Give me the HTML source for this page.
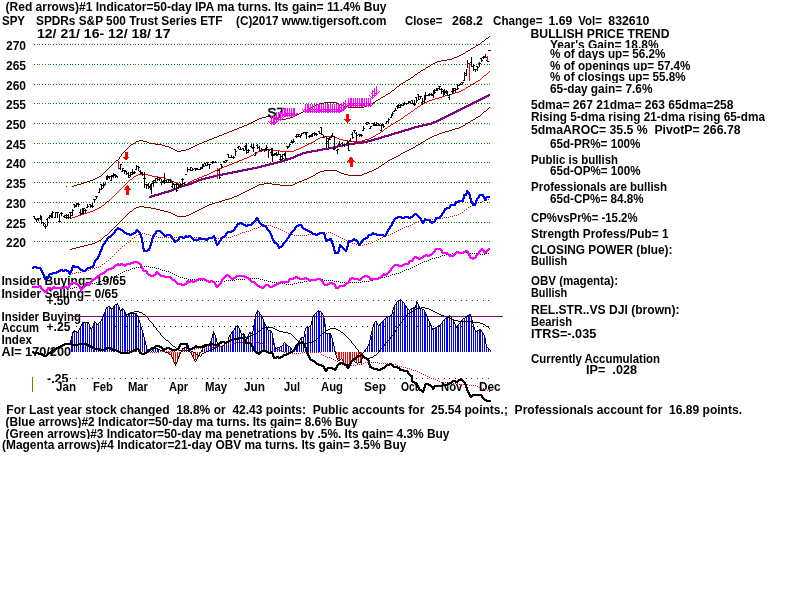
<!DOCTYPE html><html><head><meta charset="utf-8"><title>SPY chart</title><style>html,body{margin:0;padding:0;background:#fff;overflow:hidden}svg{display:block}</style></head><body><svg width="800" height="600" viewBox="0 0 800 600" shape-rendering="crispEdges">
<rect width="800" height="600" fill="#fff"/>
<g font-family="'Liberation Sans', sans-serif" font-weight="bold" font-size="13" fill="#000" text-rendering="optimizeLegibility" style="filter:grayscale(1)">
<rect x="4.5" y="1.0" width="383.0" height="12" fill="#fff"/>
<text x="5.5" y="11.0" textLength="381.0" lengthAdjust="spacingAndGlyphs" xml:space="preserve">(Red arrows)#1 Indicator=50-day IPA ma turns. Its gain= 11.4% Buy</text>
<rect x="1.0" y="15.0" width="25.0" height="12" fill="#fff"/>
<text x="2.0" y="25.0" textLength="23.0" lengthAdjust="spacingAndGlyphs" xml:space="preserve">SPY</text>
<rect x="35.0" y="15.0" width="188.5" height="12" fill="#fff"/>
<text x="36.0" y="25.0" textLength="186.5" lengthAdjust="spacingAndGlyphs" xml:space="preserve">SPDRs S&amp;P 500 Trust Series ETF</text>
<rect x="235.0" y="15.0" width="152.5" height="12" fill="#fff"/>
<text x="236.0" y="25.0" textLength="150.5" lengthAdjust="spacingAndGlyphs" xml:space="preserve">(C)2017 www.tigersoft.com</text>
<rect x="404.0" y="15.0" width="39.5" height="12" fill="#fff"/>
<text x="405.0" y="25.0" textLength="37.5" lengthAdjust="spacingAndGlyphs" xml:space="preserve">Close=</text>
<rect x="451.0" y="15.0" width="33.0" height="12" fill="#fff"/>
<text x="452.0" y="25.0" textLength="31.0" lengthAdjust="spacingAndGlyphs" xml:space="preserve">268.2</text>
<rect x="492.0" y="15.0" width="51.5" height="12" fill="#fff"/>
<text x="493.0" y="25.0" textLength="49.5" lengthAdjust="spacingAndGlyphs" xml:space="preserve">Change=</text>
<rect x="547.6" y="15.0" width="25.6" height="12" fill="#fff"/>
<text x="548.6" y="25.0" textLength="23.6" lengthAdjust="spacingAndGlyphs" xml:space="preserve">1.69</text>
<rect x="577.3" y="15.0" width="25.7" height="12" fill="#fff"/>
<text x="578.3" y="25.0" textLength="23.7" lengthAdjust="spacingAndGlyphs" xml:space="preserve">Vol=</text>
<rect x="607.3" y="15.0" width="43.1" height="12" fill="#fff"/>
<text x="608.3" y="25.0" textLength="41.1" lengthAdjust="spacingAndGlyphs" xml:space="preserve">832610</text>
<rect x="36.0" y="28.0" width="135.5" height="12" fill="#fff"/>
<text x="37.0" y="38.0" textLength="133.5" lengthAdjust="spacingAndGlyphs" xml:space="preserve">12/ 21/ 16- 12/ 18/ 17</text>
<rect x="529.5" y="28.0" width="141.0" height="12" fill="#fff"/>
<text x="530.5" y="38.0" textLength="139.0" lengthAdjust="spacingAndGlyphs" xml:space="preserve">BULLISH PRICE TREND</text>
<rect x="549.0" y="39.0" width="110.5" height="12" fill="#fff"/>
<text x="550.0" y="49.0" textLength="108.5" lengthAdjust="spacingAndGlyphs" xml:space="preserve">Year's Gain= 18.8%</text>
<rect x="549.0" y="48.0" width="117.5" height="12" fill="#fff"/>
<text x="550.0" y="58.0" textLength="115.5" lengthAdjust="spacingAndGlyphs" xml:space="preserve">% of days up= 56.2%</text>
<rect x="549.0" y="60.0" width="142.5" height="12" fill="#fff"/>
<text x="550.0" y="70.0" textLength="140.5" lengthAdjust="spacingAndGlyphs" xml:space="preserve">% of openings up= 57.4%</text>
<rect x="549.0" y="71.0" width="137.5" height="12" fill="#fff"/>
<text x="550.0" y="81.0" textLength="135.5" lengthAdjust="spacingAndGlyphs" xml:space="preserve">% of closings up= 55.8%</text>
<rect x="549.0" y="83.0" width="104.5" height="12" fill="#fff"/>
<text x="550.0" y="93.0" textLength="102.5" lengthAdjust="spacingAndGlyphs" xml:space="preserve">65-day gain= 7.6%</text>
<rect x="530.0" y="99.0" width="204.5" height="12" fill="#fff"/>
<text x="531.0" y="109.0" textLength="202.5" lengthAdjust="spacingAndGlyphs" xml:space="preserve">5dma= 267 21dma= 263 65dma=258</text>
<rect x="530.0" y="111.0" width="236.0" height="12" fill="#fff"/>
<text x="531.0" y="121.0" textLength="234.0" lengthAdjust="spacingAndGlyphs" xml:space="preserve">Rising 5-dma rising 21-dma rising 65-dma</text>
<rect x="530.0" y="124.0" width="211.5" height="12" fill="#fff"/>
<text x="531.0" y="134.0" textLength="209.5" lengthAdjust="spacingAndGlyphs" xml:space="preserve">5dmaAROC= 35.5 %  PivotP= 266.78</text>
<rect x="549.0" y="138.0" width="92.5" height="12" fill="#fff"/>
<text x="550.0" y="148.0" textLength="90.5" lengthAdjust="spacingAndGlyphs" xml:space="preserve">65d-PR%= 100%</text>
<rect x="530.0" y="154.0" width="89.0" height="12" fill="#fff"/>
<text x="531.0" y="164.0" textLength="87.0" lengthAdjust="spacingAndGlyphs" xml:space="preserve">Public is bullish</text>
<rect x="549.0" y="165.0" width="92.5" height="12" fill="#fff"/>
<text x="550.0" y="175.0" textLength="90.5" lengthAdjust="spacingAndGlyphs" xml:space="preserve">65d-OP%= 100%</text>
<rect x="530.0" y="181.0" width="138.0" height="12" fill="#fff"/>
<text x="531.0" y="191.0" textLength="136.0" lengthAdjust="spacingAndGlyphs" xml:space="preserve">Professionals are bullish</text>
<rect x="549.0" y="193.0" width="95.5" height="12" fill="#fff"/>
<text x="550.0" y="203.0" textLength="93.5" lengthAdjust="spacingAndGlyphs" xml:space="preserve">65d-CP%= 84.8%</text>
<rect x="530.0" y="212.0" width="108.5" height="12" fill="#fff"/>
<text x="531.0" y="222.0" textLength="106.5" lengthAdjust="spacingAndGlyphs" xml:space="preserve">CP%vsPr%= -15.2%</text>
<rect x="530.0" y="228.0" width="139.5" height="12" fill="#fff"/>
<text x="531.0" y="238.0" textLength="137.5" lengthAdjust="spacingAndGlyphs" xml:space="preserve">Strength Profess/Pub= 1</text>
<rect x="530.0" y="244.0" width="143.5" height="12" fill="#fff"/>
<text x="531.0" y="254.0" textLength="141.5" lengthAdjust="spacingAndGlyphs" xml:space="preserve">CLOSING POWER (blue):</text>
<rect x="530.0" y="255.0" width="38.0" height="12" fill="#fff"/>
<text x="531.0" y="265.0" textLength="36.0" lengthAdjust="spacingAndGlyphs" xml:space="preserve">Bullish</text>
<rect x="530.0" y="275.0" width="89.0" height="12" fill="#fff"/>
<text x="531.0" y="285.0" textLength="87.0" lengthAdjust="spacingAndGlyphs" xml:space="preserve">OBV (magenta):</text>
<rect x="530.0" y="287.0" width="38.0" height="12" fill="#fff"/>
<text x="531.0" y="297.0" textLength="36.0" lengthAdjust="spacingAndGlyphs" xml:space="preserve">Bullish</text>
<rect x="530.0" y="304.0" width="150.5" height="12" fill="#fff"/>
<text x="531.0" y="314.0" textLength="148.5" lengthAdjust="spacingAndGlyphs" xml:space="preserve">REL.STR..VS DJI (brown):</text>
<rect x="530.0" y="316.0" width="43.0" height="12" fill="#fff"/>
<text x="531.0" y="326.0" textLength="41.0" lengthAdjust="spacingAndGlyphs" xml:space="preserve">Bearish</text>
<rect x="530.0" y="328.0" width="67.3" height="12" fill="#fff"/>
<text x="531.0" y="338.0" textLength="65.3" lengthAdjust="spacingAndGlyphs" xml:space="preserve">ITRS=-.035</text>
<rect x="530.0" y="353.0" width="131.0" height="12" fill="#fff"/>
<text x="531.0" y="363.0" textLength="129.0" lengthAdjust="spacingAndGlyphs" xml:space="preserve">Currently Accumulation</text>
<rect x="585.0" y="363.5" width="53.0" height="12" fill="#fff"/>
<text x="586.0" y="373.5" textLength="51.0" lengthAdjust="spacingAndGlyphs" xml:space="preserve">IP=  .028</text>
<rect x="5.3" y="404.0" width="737.7" height="12" fill="#fff"/>
<text x="6.3" y="414.0" textLength="735.7" lengthAdjust="spacingAndGlyphs" xml:space="preserve">For Last year stock changed  18.8% or  42.43 points:  Public accounts for  25.54 points.;  Professionals account for  16.89 points.</text>
<rect x="4.5" y="416.0" width="354.0" height="12" fill="#fff"/>
<text x="5.5" y="426.0" textLength="352.0" lengthAdjust="spacingAndGlyphs" xml:space="preserve">(Blue arrows)#2 Indicator=50-day ma turns. Its gain= 8.6% Buy</text>
<rect x="4.5" y="428.0" width="446.0" height="12" fill="#fff"/>
<text x="5.5" y="438.0" textLength="444.0" lengthAdjust="spacingAndGlyphs" xml:space="preserve">(Green arrows)#3 Indicator=50-day ma penetrations by .5%. Its gain= 4.3% Buy</text>
<rect x="1.0" y="439.0" width="406.3" height="12" fill="#fff"/>
<text x="2.0" y="449.0" textLength="404.3" lengthAdjust="spacingAndGlyphs" xml:space="preserve">(Magenta arrows)#4 Indicator=21-day OBV ma turns. Its gain= 3.5% Buy</text>
<rect x="5.0" y="40.0" width="22.0" height="12" fill="#fff"/>
<text x="6.0" y="50.0" textLength="20.0" lengthAdjust="spacingAndGlyphs" xml:space="preserve">270</text>
<rect x="5.0" y="60.0" width="22.0" height="12" fill="#fff"/>
<text x="6.0" y="70.0" textLength="20.0" lengthAdjust="spacingAndGlyphs" xml:space="preserve">265</text>
<rect x="5.0" y="80.0" width="22.0" height="12" fill="#fff"/>
<text x="6.0" y="90.0" textLength="20.0" lengthAdjust="spacingAndGlyphs" xml:space="preserve">260</text>
<rect x="5.0" y="99.0" width="22.0" height="12" fill="#fff"/>
<text x="6.0" y="109.0" textLength="20.0" lengthAdjust="spacingAndGlyphs" xml:space="preserve">255</text>
<rect x="5.0" y="119.0" width="22.0" height="12" fill="#fff"/>
<text x="6.0" y="129.0" textLength="20.0" lengthAdjust="spacingAndGlyphs" xml:space="preserve">250</text>
<rect x="5.0" y="139.0" width="22.0" height="12" fill="#fff"/>
<text x="6.0" y="149.0" textLength="20.0" lengthAdjust="spacingAndGlyphs" xml:space="preserve">245</text>
<rect x="5.0" y="158.0" width="22.0" height="12" fill="#fff"/>
<text x="6.0" y="168.0" textLength="20.0" lengthAdjust="spacingAndGlyphs" xml:space="preserve">240</text>
<rect x="5.0" y="178.0" width="22.0" height="12" fill="#fff"/>
<text x="6.0" y="188.0" textLength="20.0" lengthAdjust="spacingAndGlyphs" xml:space="preserve">235</text>
<rect x="5.0" y="198.0" width="22.0" height="12" fill="#fff"/>
<text x="6.0" y="208.0" textLength="20.0" lengthAdjust="spacingAndGlyphs" xml:space="preserve">230</text>
<rect x="5.0" y="218.0" width="22.0" height="12" fill="#fff"/>
<text x="6.0" y="228.0" textLength="20.0" lengthAdjust="spacingAndGlyphs" xml:space="preserve">225</text>
<rect x="5.0" y="237.0" width="22.0" height="12" fill="#fff"/>
<text x="6.0" y="247.0" textLength="20.0" lengthAdjust="spacingAndGlyphs" xml:space="preserve">220</text>
<text x="1.5" y="285.0" textLength="124.5" lengthAdjust="spacingAndGlyphs" xml:space="preserve">Insider Buying= 19/65</text>
<text x="1.5" y="298.0" textLength="116.5" lengthAdjust="spacingAndGlyphs" xml:space="preserve">Insider Selling= 0/65</text>
<text x="46.5" y="304.5" textLength="23.5" lengthAdjust="spacingAndGlyphs" xml:space="preserve">+.50</text>
<text x="1.5" y="320.5" textLength="79.5" lengthAdjust="spacingAndGlyphs" xml:space="preserve">Insider Buying</text>
<text x="1.5" y="332.0" textLength="37.5" lengthAdjust="spacingAndGlyphs" xml:space="preserve">Accum</text>
<text x="46.5" y="330.5" textLength="24.0" lengthAdjust="spacingAndGlyphs" xml:space="preserve">+.25</text>
<text x="1.5" y="344.0" textLength="30.5" lengthAdjust="spacingAndGlyphs" xml:space="preserve">Index</text>
<text x="1.5" y="356.0" textLength="69.5" lengthAdjust="spacingAndGlyphs" xml:space="preserve">AI= 170/200</text>
<text x="47.0" y="383.0" textLength="21.5" lengthAdjust="spacingAndGlyphs" xml:space="preserve">-.25</text>
<rect x="55.0" y="382.4" width="22.0" height="10.6" fill="#fff"/>
<text x="56.0" y="391.0" textLength="20.0" lengthAdjust="spacingAndGlyphs" xml:space="preserve">Jan</text>
<rect x="92.0" y="382.4" width="22.0" height="10.6" fill="#fff"/>
<text x="93.0" y="391.0" textLength="20.0" lengthAdjust="spacingAndGlyphs" xml:space="preserve">Feb</text>
<rect x="127.0" y="382.4" width="22.0" height="10.6" fill="#fff"/>
<text x="128.0" y="391.0" textLength="20.0" lengthAdjust="spacingAndGlyphs" xml:space="preserve">Mar</text>
<rect x="168.0" y="382.4" width="21.0" height="10.6" fill="#fff"/>
<text x="169.0" y="391.0" textLength="19.0" lengthAdjust="spacingAndGlyphs" xml:space="preserve">Apr</text>
<rect x="204.0" y="382.4" width="24.0" height="10.6" fill="#fff"/>
<text x="205.0" y="391.0" textLength="22.0" lengthAdjust="spacingAndGlyphs" xml:space="preserve">May</text>
<rect x="243.0" y="382.4" width="23.0" height="10.6" fill="#fff"/>
<text x="244.0" y="391.0" textLength="21.0" lengthAdjust="spacingAndGlyphs" xml:space="preserve">Jun</text>
<rect x="283.0" y="382.4" width="18.0" height="10.6" fill="#fff"/>
<text x="284.0" y="391.0" textLength="16.0" lengthAdjust="spacingAndGlyphs" xml:space="preserve">Jul</text>
<rect x="320.0" y="382.4" width="24.0" height="10.6" fill="#fff"/>
<text x="321.0" y="391.0" textLength="22.0" lengthAdjust="spacingAndGlyphs" xml:space="preserve">Aug</text>
<rect x="363.0" y="382.4" width="24.0" height="10.6" fill="#fff"/>
<text x="364.0" y="391.0" textLength="22.0" lengthAdjust="spacingAndGlyphs" xml:space="preserve">Sep</text>
<rect x="400.0" y="382.4" width="19.2" height="10.6" fill="#fff"/>
<text x="401.0" y="391.0" textLength="17.2" lengthAdjust="spacingAndGlyphs" xml:space="preserve">Oct</text>
<rect x="440.0" y="382.4" width="23.3" height="10.6" fill="#fff"/>
<text x="441.0" y="391.0" textLength="21.3" lengthAdjust="spacingAndGlyphs" xml:space="preserve">Nov</text>
<rect x="478.0" y="382.4" width="23.7" height="10.6" fill="#fff"/>
<text x="479.0" y="391.0" textLength="21.7" lengthAdjust="spacingAndGlyphs" xml:space="preserve">Dec</text>
</g>
<defs><path id="gl" d="M34 0h1M37 0h1M39 0h1M42 0h1M45 0h1M48 0h1M50 0h1M53 0h1M56 0h1M59 0h1M61 0h1M64 0h1M67 0h1M70 0h1M72 0h1M75 0h1M78 0h1M81 0h1M83 0h1M86 0h1M89 0h1M92 0h1M94 0h1M97 0h1M100 0h1M103 0h1M105 0h1M108 0h1M111 0h1M114 0h1M116 0h1M119 0h1M122 0h1M124 0h1M127 0h1M130 0h1M133 0h1M135 0h1M138 0h1M141 0h1M144 0h1M146 0h1M149 0h1M152 0h1M155 0h1M157 0h1M160 0h1M163 0h1M166 0h1M168 0h1M171 0h1M174 0h1M177 0h1M179 0h1M182 0h1M185 0h1M188 0h1M190 0h1M193 0h1M196 0h1M199 0h1M201 0h1M204 0h1M207 0h1M210 0h1M212 0h1M215 0h1M218 0h1M220 0h1M223 0h1M226 0h1M229 0h1M231 0h1M234 0h1M237 0h1M240 0h1M242 0h1M245 0h1M248 0h1M251 0h1M253 0h1M256 0h1M259 0h1M262 0h1M264 0h1M267 0h1M270 0h1M273 0h1M275 0h1M278 0h1M281 0h1M284 0h1M286 0h1M289 0h1M292 0h1M295 0h1M297 0h1M300 0h1M303 0h1M306 0h1M308 0h1M311 0h1M314 0h1M316 0h1M319 0h1M322 0h1M325 0h1M327 0h1M330 0h1M333 0h1M336 0h1M338 0h1M341 0h1M344 0h1M347 0h1M349 0h1M352 0h1M355 0h1M358 0h1M360 0h1M363 0h1M366 0h1M369 0h1M371 0h1M374 0h1M377 0h1M380 0h1M382 0h1M385 0h1M388 0h1M391 0h1M393 0h1M396 0h1M399 0h1M402 0h1M404 0h1M407 0h1M410 0h1M413 0h1M415 0h1M418 0h1M421 0h1M423 0h1M426 0h1M429 0h1M432 0h1M434 0h1M437 0h1M440 0h1M443 0h1M445 0h1M448 0h1M451 0h1M454 0h1M456 0h1M459 0h1M462 0h1M465 0h1M467 0h1M470 0h1M473 0h1M476 0h1M478 0h1M481 0h1M484 0h1M487 0h1M489 0h1" stroke="#008000" stroke-width="1"/></defs>
<use href="#gl" y="44.5"/>
<use href="#gl" y="64.5"/>
<use href="#gl" y="84.5"/>
<use href="#gl" y="103.5"/>
<use href="#gl" y="123.5"/>
<use href="#gl" y="143.5"/>
<use href="#gl" y="162.5"/>
<use href="#gl" y="182.5"/>
<use href="#gl" y="202.5"/>
<use href="#gl" y="222.5"/>
<use href="#gl" y="241.5"/>
<path d="M76 0h1M82 0h1M87 0h1M93 0h1M98 0h1M104 0h1M109 0h1M115 0h1M120 0h1M126 0h1M131 0h1M137 0h1M142 0h1M148 0h1M153 0h1M159 0h1M164 0h1M170 0h1M175 0h1M181 0h1M186 0h1M191 0h1M197 0h1M202 0h1M208 0h1M213 0h1M219 0h1M224 0h1M230 0h1M235 0h1M241 0h1M246 0h1M252 0h1M257 0h1M263 0h1M268 0h1M274 0h1M279 0h1M285 0h1M290 0h1M296 0h1M301 0h1M307 0h1M312 0h1M318 0h1M323 0h1M329 0h1M334 0h1M340 0h1M345 0h1M351 0h1M356 0h1M362 0h1M367 0h1M373 0h1M378 0h1M384 0h1M389 0h1M395 0h1M400 0h1M406 0h1M411 0h1M417 0h1M422 0h1M428 0h1M433 0h1M439 0h1M444 0h1M450 0h1M455 0h1M461 0h1M466 0h1M472 0h1M477 0h1M483 0h1M488 0h1" stroke="#800080" transform="translate(0,300.5)"/>
<path d="M76 0h1M82 0h1M87 0h1M93 0h1M98 0h1M104 0h1M109 0h1M115 0h1M120 0h1M126 0h1M131 0h1M137 0h1M142 0h1M148 0h1M153 0h1M159 0h1M164 0h1M170 0h1M175 0h1M181 0h1M186 0h1M191 0h1M197 0h1M202 0h1M208 0h1M213 0h1M219 0h1M224 0h1M230 0h1M235 0h1M241 0h1M246 0h1M252 0h1M257 0h1M263 0h1M268 0h1M274 0h1M279 0h1M285 0h1M290 0h1M296 0h1M301 0h1M307 0h1M312 0h1M318 0h1M323 0h1M329 0h1M334 0h1M340 0h1M345 0h1M351 0h1M356 0h1M362 0h1M367 0h1M373 0h1M378 0h1M384 0h1M389 0h1M395 0h1M400 0h1M406 0h1M411 0h1M417 0h1M422 0h1M428 0h1M433 0h1M439 0h1M444 0h1M450 0h1M455 0h1M461 0h1M466 0h1M472 0h1M477 0h1M483 0h1M488 0h1" stroke="#000" transform="translate(0,326.5)"/>
<path d="M70 0h1M76 0h1M81 0h1M87 0h1M92 0h1M98 0h1M103 0h1M109 0h1M114 0h1M120 0h1M125 0h1M131 0h1M136 0h1M142 0h1M147 0h1M153 0h1M158 0h1M164 0h1M169 0h1M175 0h1M180 0h1M185 0h1M191 0h1M196 0h1M202 0h1M207 0h1M213 0h1M218 0h1M224 0h1M229 0h1M235 0h1M240 0h1M246 0h1M251 0h1M257 0h1M262 0h1M268 0h1M273 0h1M279 0h1M284 0h1M290 0h1M295 0h1M301 0h1M306 0h1M312 0h1M317 0h1M323 0h1M328 0h1M334 0h1M339 0h1M345 0h1M350 0h1M356 0h1M361 0h1M367 0h1M372 0h1M378 0h1M383 0h1M389 0h1M394 0h1M400 0h1M405 0h1M411 0h1M416 0h1M422 0h1M427 0h1M433 0h1M438 0h1M444 0h1M449 0h1M455 0h1M460 0h1M466 0h1M471 0h1M477 0h1M482 0h1M488 0h1" stroke="#800080" transform="translate(0,378.5)"/>
<line x1="72" y1="316.5" x2="503" y2="316.5" stroke="#800080"/>
<line x1="32.5" y1="377" x2="32.5" y2="392" stroke="#808000"/>
<path d="M71 352V339M72 352V332M74 352V330M76 352V331M78 352V330M80 352V327M82 352V323M83 352V322M85 352V322M87 352V322M89 352V324M91 352V329M93 352V325M94 352V321M96 352V323M98 352V324M100 352V322M102 352V318M104 352V314M105 352V309M107 352V307M109 352V307M111 352V308M113 352V307M114 352V305M116 352V304M118 352V305M120 352V311M122 352V309M124 352V310M125 352V314M127 352V316M129 352V314M131 352V313M133 352V313M135 352V313M136 352V315M138 352V318M140 352V324M142 352V331M144 352V338M146 352V345M147 352V350M149 352V351M151 352V351M153 352V349M155 352V349M157 352V348M158 352V349M160 352V350M162 352V350M164 352V351M182 352V349M184 352V348M186 352V346M188 352V345M189 352V351M202 352V349M204 352V348M206 352V346M208 352V345M210 352V343M211 352V338M213 352V332M215 352V336M217 352V343M219 352V345M221 352V346M222 352V345M224 352V345M226 352V343M228 352V341M230 352V335M232 352V332M233 352V330M235 352V327M237 352V326M239 352V328M241 352V333M243 352V334M244 352V335M246 352V337M248 352V336M250 352V333M252 352V334M254 352V325M255 352V314M257 352V311M259 352V313M261 352V316M263 352V319M264 352V323M266 352V327M268 352V331M270 352V330M272 352V333M274 352V343M275 352V348M277 352V348M279 352V347M281 352V346M283 352V344M285 352V343M286 352V345M288 352V346M290 352V347M292 352V350M294 352V350M296 352V349M297 352V346M299 352V341M301 352V338M303 352V338M305 352V334M307 352V328M308 352V327M310 352V325M312 352V319M314 352V314M316 352V313M318 352V311M319 352V311M321 352V313M323 352V315M325 352V324M327 352V333M329 352V333M330 352V334M332 352V339M334 352V347M365 352V350M367 352V347M369 352V344M371 352V336M372 352V328M374 352V322M376 352V322M378 352V325M380 352V324M382 352V322M383 352V320M385 352V318M387 352V317M389 352V316M391 352V315M393 352V312M394 352V306M396 352V303M398 352V301M400 352V300M402 352V301M404 352V303M405 352V306M407 352V308M409 352V310M411 352V309M413 352V308M414 352V307M416 352V302M418 352V306M420 352V308M422 352V309M424 352V310M425 352V313M427 352V317M429 352V321M431 352V325M433 352V329M435 352V328M436 352V327M438 352V325M440 352V324M442 352V321M444 352V319M446 352V318M447 352V316M449 352V315M451 352V317M453 352V320M455 352V324M457 352V327M458 352V324M460 352V321M462 352V319M464 352V318M466 352V316M468 352V315M469 352V314M471 352V318M473 352V324M475 352V331M477 352V330M479 352V330M480 352V330M482 352V332M484 352V335M486 352V345M488 352V348M490 352V350" stroke="#0000ff" transform="translate(0.5,0)"/>
<path d="M168 352V353M169 352V354M171 352V355M173 352V359M175 352V364M177 352V361M179 352V357M180 352V353M191 352V354M193 352V357M195 352V360M197 352V358M199 352V355M336 352V354M338 352V359M339 352V360M341 352V359M343 352V361M345 352V364M347 352V365M349 352V364M350 352V362M352 352V361M354 352V361M356 352V362M358 352V363M360 352V362M361 352V364" stroke="#ff0000" transform="translate(0.5,0)"/>
<path d="M400 299h1M398 300h2M401 300h1M397 301h1M402 301h1M416 301h1M396 302h1M403 302h1M416 302h2M117 303h1M396 303h1M404 303h1M416 303h2M115 304h3M395 304h1M404 304h1M416 304h1M418 304h1M114 305h1M118 305h1M394 305h1M405 305h1M415 305h1M418 305h1M108 306h2M113 306h1M118 306h1M394 306h1M406 306h1M415 306h1M419 306h1M106 307h2M110 307h1M113 307h1M119 307h1M393 307h1M406 307h1M413 307h3M419 307h1M106 308h1M110 308h1M112 308h1M119 308h1M122 308h1M393 308h1M407 308h1M411 308h2M420 308h2M105 309h1M111 309h1M119 309h1M121 309h1M123 309h1M393 309h1M408 309h1M410 309h1M422 309h2M105 310h1M120 310h2M124 310h1M257 310h1M318 310h1M392 310h1M409 310h1M424 310h1M105 311h1M120 311h1M124 311h1M257 311h2M317 311h1M319 311h2M392 311h1M424 311h1M104 312h1M125 312h1M256 312h1M259 312h1M316 312h1M321 312h1M392 312h1M425 312h1M104 313h1M125 313h1M128 313h9M256 313h1M259 313h1M315 313h1M322 313h1M392 313h1M425 313h1M103 314h1M126 314h1M128 314h1M136 314h1M255 314h1M260 314h1M314 314h1M322 314h1M391 314h1M426 314h1M469 314h2M103 315h1M126 315h1M128 315h1M137 315h1M255 315h1M261 315h1M313 315h1M323 315h1M390 315h2M426 315h1M449 315h1M467 315h2M470 315h1M103 316h1M127 316h1M137 316h1M255 316h1M261 316h1M313 316h1M323 316h1M388 316h2M427 316h1M448 316h1M450 316h1M466 316h1M471 316h1M102 317h1M127 317h1M138 317h1M255 317h1M262 317h1M312 317h1M323 317h1M386 317h2M427 317h1M446 317h2M451 317h1M465 317h1M471 317h1M102 318h1M138 318h1M255 318h1M262 318h1M312 318h1M324 318h1M385 318h1M427 318h1M445 318h1M451 318h1M463 318h2M471 318h1M101 319h1M138 319h1M254 319h1M263 319h1M312 319h1M324 319h1M384 319h1M428 319h1M444 319h1M452 319h1M462 319h1M471 319h1M101 320h1M139 320h1M254 320h1M263 320h1M312 320h1M324 320h1M383 320h1M428 320h1M443 320h1M453 320h1M461 320h1M472 320h1M94 321h1M100 321h1M139 321h1M254 321h1M263 321h1M311 321h1M324 321h1M375 321h2M382 321h1M429 321h1M442 321h1M453 321h1M460 321h1M472 321h1M82 322h7M94 322h2M99 322h1M139 322h1M254 322h1M264 322h1M311 322h1M324 322h1M374 322h1M376 322h1M381 322h1M429 322h1M442 322h1M454 322h1M460 322h1M472 322h1M82 323h1M88 323h1M93 323h1M96 323h1M98 323h1M140 323h1M254 323h1M264 323h1M311 323h1M324 323h1M374 323h1M377 323h1M380 323h1M430 323h1M441 323h1M454 323h1M459 323h1M472 323h1M81 324h1M89 324h1M93 324h1M97 324h1M140 324h1M254 324h1M265 324h1M311 324h1M324 324h1M373 324h1M377 324h1M379 324h1M430 324h1M440 324h1M455 324h1M458 324h1M473 324h1M81 325h1M89 325h1M93 325h1M140 325h1M237 325h1M253 325h1M265 325h1M310 325h1M324 325h1M373 325h1M378 325h2M430 325h1M439 325h1M455 325h1M457 325h1M473 325h1M80 326h1M89 326h1M92 326h1M140 326h1M236 326h1M238 326h1M253 326h1M266 326h1M309 326h2M324 326h1M373 326h1M378 326h1M431 326h1M437 326h2M456 326h2M473 326h1M80 327h1M90 327h1M92 327h1M141 327h1M235 327h1M238 327h1M253 327h1M266 327h1M306 327h3M325 327h1M372 327h1M431 327h1M435 327h2M456 327h1M474 327h1M79 328h1M90 328h2M141 328h1M234 328h1M239 328h1M253 328h1M267 328h1M305 328h1M325 328h1M372 328h1M432 328h3M474 328h1M79 329h1M91 329h1M141 329h1M234 329h1M239 329h1M253 329h1M267 329h1M305 329h1M325 329h1M372 329h1M432 329h1M474 329h1M479 329h2M74 330h1M78 330h1M142 330h1M233 330h1M240 330h1M253 330h1M268 330h3M305 330h1M325 330h1M372 330h1M475 330h1M477 330h2M481 330h1M73 331h1M75 331h2M78 331h1M142 331h1M213 331h1M232 331h1M240 331h1M252 331h1M268 331h1M271 331h1M304 331h1M325 331h1M371 331h1M475 331h2M481 331h1M73 332h1M77 332h1M142 332h1M213 332h1M231 332h1M240 332h1M249 332h2M252 332h1M271 332h1M304 332h1M325 332h1M371 332h1M482 332h1M72 333h1M143 333h1M213 333h2M231 333h1M241 333h1M243 333h1M249 333h1M251 333h2M272 333h1M304 333h1M326 333h5M371 333h1M483 333h1M72 334h1M143 334h1M212 334h1M214 334h1M230 334h1M241 334h2M244 334h1M248 334h1M272 334h1M304 334h1M330 334h1M371 334h1M483 334h1M72 335h1M143 335h1M212 335h1M215 335h1M229 335h1M241 335h1M244 335h1M248 335h1M272 335h1M304 335h1M331 335h1M370 335h1M484 335h1M71 336h1M143 336h1M212 336h1M215 336h1M229 336h1M245 336h1M248 336h1M272 336h1M304 336h1M331 336h1M370 336h1M484 336h1M71 337h1M144 337h1M212 337h1M215 337h1M228 337h1M246 337h2M272 337h1M301 337h3M331 337h1M370 337h1M484 337h1M71 338h1M144 338h1M211 338h1M216 338h1M228 338h1M247 338h1M273 338h1M300 338h1M303 338h1M332 338h1M370 338h1M485 338h1M71 339h1M144 339h1M211 339h1M216 339h1M228 339h1M273 339h1M300 339h1M303 339h1M332 339h1M370 339h1M485 339h1M70 340h1M144 340h1M211 340h1M216 340h1M228 340h1M273 340h1M299 340h1M332 340h1M369 340h1M485 340h1M70 341h1M145 341h1M210 341h1M216 341h1M227 341h1M273 341h1M299 341h1M332 341h1M369 341h1M485 341h1M70 342h1M145 342h1M210 342h1M217 342h1M227 342h1M273 342h1M284 342h1M299 342h1M333 342h1M369 342h1M485 342h1M145 343h1M209 343h1M217 343h1M225 343h2M273 343h1M283 343h1M285 343h1M298 343h1M333 343h1M369 343h1M485 343h1M145 344h1M187 344h1M208 344h1M218 344h1M224 344h1M273 344h1M283 344h1M286 344h1M298 344h1M333 344h1M368 344h1M486 344h1M146 345h1M186 345h2M207 345h1M219 345h1M222 345h2M274 345h1M282 345h1M287 345h1M298 345h1M333 345h1M368 345h1M486 345h1M146 346h1M186 346h1M188 346h1M205 346h2M220 346h2M274 346h1M280 346h2M288 346h2M297 346h1M334 346h1M367 346h1M486 346h1M146 347h1M184 347h2M188 347h1M203 347h2M275 347h1M277 347h3M290 347h1M297 347h1M334 347h1M367 347h1M487 347h1M146 348h1M153 348h5M182 348h2M188 348h1M202 348h1M275 348h2M291 348h1M296 348h1M334 348h1M366 348h1M488 348h1M147 349h1M152 349h1M158 349h2M182 349h1M188 349h1M202 349h1M291 349h1M295 349h1M334 349h1M365 349h1M489 349h1M147 350h1M152 350h1M160 350h2M181 350h1M189 350h1M201 350h1M292 350h3M334 350h1M364 350h1M490 350h1M148 351h2M151 351h1M162 351h3M181 351h1M189 351h1M201 351h1M335 351h1M364 351h1M150 352h1M165 352h3M180 352h1M190 352h1M200 352h1M335 352h1M363 352h1M168 353h1M180 353h1M191 353h1M199 353h1M335 353h1M362 353h1M169 354h2M179 354h1M191 354h1M199 354h1M335 354h1M362 354h1M171 355h1M179 355h1M192 355h1M198 355h1M336 355h1M362 355h1M171 356h1M178 356h1M192 356h1M198 356h1M336 356h1M362 356h1M172 357h1M178 357h1M193 357h1M197 357h1M336 357h1M362 357h1M172 358h1M178 358h1M193 358h1M197 358h1M337 358h1M341 358h1M362 358h1M173 359h1M177 359h1M194 359h1M196 359h1M337 359h1M340 359h1M342 359h1M361 359h1M173 360h1M177 360h1M194 360h1M196 360h1M338 360h2M342 360h1M353 360h1M361 360h1M173 361h1M177 361h1M195 361h1M343 361h1M351 361h2M354 361h1M360 361h2M174 362h1M176 362h1M343 362h1M350 362h1M355 362h2M358 362h4M174 363h1M176 363h1M344 363h1M349 363h1M357 363h1M361 363h1M175 364h1M345 364h1M347 364h2M361 364h1M175 365h1M346 365h1" stroke="#000" fill="none" transform="translate(0,0.5)"/>
<path d="M421 307h4M417 308h4M425 308h4M415 309h2M429 309h2M413 310h2M431 310h2M134 311h5M411 311h2M433 311h2M130 312h4M139 312h3M409 312h2M435 312h2M128 313h2M142 313h1M408 313h1M437 313h2M127 314h1M143 314h2M407 314h1M439 314h2M145 315h1M406 315h1M441 315h3M146 316h1M406 316h1M444 316h2M147 317h1M405 317h1M446 317h3M148 318h1M404 318h1M449 318h2M148 319h1M403 319h1M451 319h3M149 320h1M402 320h1M454 320h4M150 321h1M402 321h1M458 321h15M151 322h1M401 322h1M473 322h7M152 323h1M400 323h1M480 323h3M153 324h1M399 324h1M483 324h2M153 325h1M399 325h1M485 325h1M154 326h1M398 326h1M486 326h2M155 327h1M265 327h8M397 327h1M488 327h1M156 328h1M262 328h3M273 328h2M330 328h6M396 328h1M489 328h1M156 329h1M261 329h1M275 329h2M328 329h2M336 329h2M396 329h1M157 330h1M259 330h2M277 330h2M326 330h2M338 330h2M395 330h1M158 331h1M258 331h1M279 331h4M325 331h1M340 331h1M395 331h1M159 332h1M257 332h1M283 332h5M324 332h1M341 332h2M394 332h1M160 333h1M255 333h2M288 333h3M322 333h2M343 333h1M393 333h1M160 334h1M253 334h2M291 334h1M321 334h1M344 334h1M393 334h1M161 335h1M251 335h2M292 335h1M320 335h1M345 335h1M392 335h1M162 336h1M247 336h4M293 336h1M319 336h1M346 336h1M391 336h1M163 337h1M240 337h7M294 337h1M318 337h1M347 337h1M390 337h1M164 338h1M234 338h6M295 338h1M317 338h1M348 338h1M390 338h1M165 339h1M231 339h3M296 339h1M316 339h1M349 339h1M389 339h1M166 340h2M229 340h2M297 340h1M314 340h2M350 340h1M388 340h1M168 341h1M226 341h3M298 341h2M312 341h2M351 341h1M387 341h1M169 342h1M222 342h4M300 342h3M308 342h4M351 342h1M386 342h1M170 343h1M220 343h2M303 343h5M352 343h1M385 343h1M171 344h1M219 344h1M353 344h1M384 344h1M172 345h1M218 345h1M354 345h1M384 345h1M173 346h2M217 346h1M355 346h1M383 346h1M175 347h1M216 347h1M355 347h1M382 347h1M176 348h1M214 348h2M356 348h1M381 348h1M177 349h2M211 349h3M357 349h1M380 349h1M179 350h12M209 350h2M358 350h1M379 350h1M191 351h2M206 351h3M358 351h1M379 351h1M193 352h2M204 352h2M359 352h1M378 352h1M195 353h1M202 353h2M359 353h1M377 353h1M196 354h2M201 354h1M360 354h1M376 354h1M198 355h2M201 355h1M361 355h1M374 355h2M200 356h1M362 356h2M373 356h1M364 357h2M370 357h3M366 358h4" stroke="#000" fill="none" transform="translate(0,0.5)"/>
<path d="M244 341h1M246 341h1M248 341h1M250 341h1M252 341h1M254 341h1M236 342h1M238 342h1M240 342h1M242 342h1M256 342h1M258 342h1M230 343h1M232 343h1M234 343h1M260 343h1M262 343h1M226 344h1M228 344h1M264 344h1M266 344h1M222 345h1M224 345h1M268 345h1M270 345h1M216 346h1M218 346h1M220 346h1M272 346h1M206 347h1M208 347h1M210 347h1M212 347h1M214 347h1M274 347h1M196 348h1M198 348h1M200 348h1M202 348h1M204 348h1M276 348h1M186 349h1M188 349h1M190 349h1M192 349h1M194 349h1M278 349h1M124 350h1M126 350h1M128 350h1M176 350h1M178 350h1M180 350h1M182 350h1M184 350h1M280 350h1M130 351h1M132 351h1M134 351h1M136 351h1M138 351h1M140 351h1M142 351h1M160 351h1M162 351h1M164 351h1M166 351h1M168 351h1M170 351h1M172 351h1M174 351h1M282 351h1M144 352h1M146 352h1M148 352h1M150 352h1M152 352h1M154 352h1M156 352h1M158 352h1M284 352h1M286 352h1M302 352h1M304 352h1M306 352h1M308 352h1M310 352h1M312 352h1M314 352h1M316 352h1M318 352h1M320 352h1M288 353h1M290 353h1M292 353h1M294 353h1M296 353h1M298 353h1M300 353h1M321 354h1M323 355h1M325 356h1M327 357h1M329 357h1M331 358h1M333 359h1M335 360h1M337 361h1M339 362h1M365 362h1M367 362h1M369 362h1M371 362h1M373 362h1M375 362h1M377 362h1M341 363h1M361 363h1M363 363h1M379 363h1M381 363h1M383 363h1M385 363h1M387 363h1M389 363h1M391 363h1M343 364h1M345 364h1M357 364h1M359 364h1M393 364h1M395 364h1M347 365h1M349 365h1M351 365h1M353 365h1M355 365h1M397 365h1M399 366h1M401 366h1M403 367h1M405 367h1M407 368h1M409 368h1M411 369h1M413 370h1M415 370h1M417 371h1M419 372h1M421 373h1M423 374h1M425 375h1M427 376h1M429 377h1M431 378h1M433 378h1M435 379h1M437 380h1M439 381h1M441 382h1M443 382h1M445 382h1M447 383h1M449 383h1M451 383h1M453 383h1M455 383h1M457 383h1M459 384h1M461 384h1M463 384h1M465 384h1M467 384h1M469 385h1M471 385h1M473 385h1M475 385h1M477 386h1M479 387h1M481 388h1M483 388h1M485 389h1M487 390h1M489 391h1" stroke="#ff0000" fill="none" transform="translate(0,0.5)"/>
<path d="M238 337h7M232 338h13M230 339h9M243 339h3M228 340h5M244 340h2M220 341h5M226 341h5M244 341h3M301 341h3M219 342h10M245 342h6M298 342h6M64 343h8M78 343h9M180 343h8M211 343h3M218 343h3M224 343h3M245 343h7M297 343h8M62 344h27M179 344h9M204 344h16M250 344h2M296 344h3M303 344h2M60 345h5M71 345h8M86 345h5M155 345h5M179 345h2M186 345h3M195 345h2M202 345h10M213 345h6M250 345h3M295 345h3M303 345h3M58 346h5M88 346h5M154 346h8M178 346h3M187 346h2M194 346h11M251 346h3M295 346h2M304 346h2M56 347h5M90 347h5M106 347h5M151 347h5M159 347h4M166 347h4M178 347h2M187 347h2M192 347h11M252 347h2M294 347h3M304 347h3M54 348h5M92 348h8M104 348h9M136 348h3M150 348h5M161 348h11M176 348h4M187 348h8M252 348h3M294 348h2M305 348h2M52 349h5M94 349h13M110 349h7M133 349h7M148 349h4M162 349h5M169 349h10M188 349h5M253 349h2M293 349h3M305 349h2M51 350h4M99 350h6M112 350h7M131 350h6M138 350h2M147 350h4M163 350h2M171 350h6M189 350h2M253 350h3M261 350h6M292 350h3M305 350h3M32 351h2M50 351h3M116 351h5M129 351h5M138 351h3M146 351h3M254 351h3M260 351h9M270 351h3M290 351h4M306 351h2M32 352h7M48 352h4M118 352h14M139 352h3M144 352h4M255 352h7M266 352h7M288 352h5M306 352h2M33 353h10M47 353h4M120 353h10M139 353h8M256 353h5M268 353h6M286 353h5M306 353h3M38 354h6M46 354h3M141 354h4M258 354h2M272 354h2M283 354h6M307 354h2M360 354h3M42 355h6M272 355h2M282 355h5M307 355h3M357 355h7M43 356h4M272 356h3M276 356h3M280 356h4M308 356h2M356 356h5M362 356h3M273 357h10M308 357h3M355 357h3M363 357h4M273 358h4M278 358h3M309 358h2M353 358h4M364 358h5M309 359h4M352 359h4M366 359h3M310 360h5M351 360h3M367 360h3M312 361h4M350 361h3M368 361h2M314 362h3M340 362h3M350 362h2M368 362h2M315 363h4M338 363h7M349 363h3M368 363h2M389 363h3M316 364h6M337 364h4M342 364h5M349 364h2M368 364h3M386 364h7M318 365h6M336 365h3M344 365h7M369 365h2M385 365h5M391 365h3M321 366h4M336 366h2M346 366h4M369 366h3M384 366h3M392 366h6M323 367h2M327 367h6M335 367h3M346 367h4M369 367h5M382 367h4M393 367h7M323 368h14M347 368h2M371 368h7M380 368h5M397 368h4M324 369h4M332 369h5M373 369h10M399 369h5M324 370h4M334 370h2M377 370h4M399 370h9M325 371h2M403 371h6M407 372h2M407 373h3M408 374h3M409 375h4M410 376h3M411 377h2M411 378h2M460 378h2M411 379h2M458 379h5M411 380h2M452 380h4M457 380h7M411 381h4M451 381h8M462 381h3M412 382h5M449 382h4M455 382h3M463 382h3M414 383h4M425 383h4M447 383h5M464 383h2M416 384h2M424 384h7M442 384h8M464 384h3M416 385h3M424 385h2M428 385h4M434 385h14M465 385h2M417 386h2M424 386h2M430 386h13M465 386h2M417 387h3M423 387h3M431 387h4M465 387h3M418 388h2M423 388h2M432 388h3M466 388h2M418 389h4M423 389h2M432 389h2M466 389h2M419 390h6M466 390h3M421 391h3M467 391h2M422 392h2M467 392h3M468 393h2M468 394h3M472 394h10M469 395h14M469 396h4M481 396h2M470 397h2M481 397h3M482 398h3M483 399h4M484 400h7M486 401h5" stroke="#000" fill="none" transform="translate(0,0.5)"/>
<path d="M489 36h1M488 37h1M486 38h2M485 39h1M484 40h1M482 41h2M481 42h1M480 43h1M478 44h2M476 45h2M475 46h1M473 47h2M471 48h2M470 49h1M468 50h2M466 51h2M465 52h1M463 53h2M461 54h2M459 55h2M457 56h2M454 57h3M452 58h2M447 59h5M441 60h6M437 61h4M435 62h2M433 63h2M431 64h2M430 65h1M428 66h2M426 67h2M425 68h1M423 69h2M421 70h2M420 71h1M418 72h2M417 73h1M415 74h2M414 75h1M413 76h1M411 77h2M410 78h1M408 79h2M406 80h2M405 81h1M403 82h2M401 83h2M400 84h1M399 85h1M397 86h2M396 87h1M395 88h1M394 89h1M392 90h2M391 91h1M390 92h1M388 93h2M386 94h2M385 95h1M383 96h2M381 97h2M380 98h1M378 99h2M376 100h2M375 101h1M324 102h13M373 102h2M319 103h5M337 103h2M371 103h2M317 104h2M339 104h2M369 104h2M315 105h2M341 105h3M366 105h3M313 106h2M344 106h4M364 106h2M311 107h2M348 107h16M309 108h2M307 109h2M305 110h2M303 111h2M301 112h2M299 113h2M297 114h2M295 115h2M266 116h4M293 116h2M262 117h4M270 117h3M290 117h3M259 118h3M273 118h6M286 118h4M257 119h2M279 119h7M255 120h2M253 121h2M251 122h2M249 123h2M247 124h2M244 125h3M242 126h2M239 127h3M237 128h2M234 129h3M232 130h2M229 131h3M227 132h2M224 133h3M222 134h2M219 135h3M217 136h2M214 137h3M212 138h2M209 139h3M139 140h4M207 140h2M136 141h3M143 141h4M204 141h3M135 142h1M147 142h2M202 142h2M133 143h2M149 143h6M199 143h3M131 144h2M155 144h7M197 144h2M130 145h1M162 145h3M195 145h2M129 146h1M165 146h4M193 146h2M128 147h1M169 147h2M191 147h2M127 148h1M171 148h2M189 148h2M126 149h1M173 149h2M186 149h3M125 150h1M175 150h2M181 150h5M124 151h1M177 151h4M123 152h1M122 153h1M121 154h1M121 155h1M120 156h1M119 157h1M119 158h1M118 159h1M116 160h2M115 161h1M114 162h1M113 163h1M112 164h1M111 165h1M110 166h1M109 167h1M108 168h1M107 169h1M106 170h1M105 171h1M104 172h1M103 173h1M102 174h1M101 175h1M99 176h2M97 177h2M95 178h2M93 179h2M90 180h3M87 181h3M84 182h3M81 183h3M77 184h4M74 185h3M72 186h2" stroke="#800000" fill="none" transform="translate(0,0.5)"/>
<path d="M489 107h1M488 108h1M487 109h1M486 110h1M484 111h2M483 112h1M482 113h1M481 114h1M480 115h1M478 116h2M476 117h2M475 118h1M473 119h2M471 120h2M470 121h1M468 122h2M466 123h2M465 124h1M463 125h2M461 126h2M459 127h2M455 128h4M452 129h3M449 130h3M445 131h4M442 132h3M439 133h3M437 134h2M434 135h3M432 136h2M430 137h2M428 138h2M426 139h2M425 140h1M423 141h2M421 142h2M420 143h1M418 144h2M416 145h2M415 146h1M413 147h2M411 148h2M409 149h2M407 150h2M405 151h2M403 152h2M401 153h2M400 154h1M398 155h2M396 156h2M394 157h2M392 158h2M390 159h2M388 160h2M387 161h1M385 162h2M384 163h1M382 164h2M381 165h1M379 166h2M378 167h1M376 168h2M374 169h2M324 170h13M372 170h2M320 171h4M337 171h2M369 171h3M318 172h2M339 172h2M367 172h2M316 173h2M341 173h3M364 173h3M315 174h1M344 174h4M362 174h2M313 175h2M348 175h14M311 176h2M309 177h2M307 178h2M304 179h3M302 180h2M299 181h3M297 182h2M264 183h8M295 183h2M259 184h5M272 184h8M293 184h2M257 185h2M280 185h13M255 186h2M253 187h2M251 188h2M249 189h2M247 190h2M245 191h2M243 192h2M241 193h2M239 194h2M237 195h2M234 196h3M232 197h2M229 198h3M225 199h4M222 200h3M219 201h3M215 202h4M212 203h3M209 204h3M207 205h2M139 206h5M205 206h2M136 207h3M144 207h7M203 207h2M134 208h2M151 208h5M201 208h2M133 209h1M156 209h4M199 209h2M132 210h1M160 210h4M197 210h2M130 211h2M164 211h4M195 211h2M129 212h1M168 212h3M193 212h2M128 213h1M171 213h2M191 213h2M127 214h1M173 214h2M189 214h2M126 215h1M175 215h2M186 215h3M125 216h1M177 216h9M124 217h1M123 218h1M122 219h1M121 220h1M120 221h1M119 222h1M118 223h1M117 224h1M116 225h1M115 226h1M114 227h1M113 228h1M112 229h1M111 230h1M110 231h1M109 232h1M108 233h1M107 234h1M105 235h2M104 236h1M103 237h1M102 238h1M101 239h1M99 240h2M97 241h2M95 242h2M92 243h3M88 244h4M84 245h4M80 246h4M76 247h4M72 248h4M70 249h2" stroke="#800000" fill="none" transform="translate(0,0.5)"/>
<rect x="66" y="186" width="1" height="1" fill="#800000"/>
<path d="M488 94h2M486 95h4M484 96h5M482 97h5M480 98h5M478 99h5M476 100h5M474 101h5M472 102h5M470 103h5M468 104h5M466 105h5M464 106h5M462 107h5M460 108h5M458 109h5M456 110h5M454 111h5M452 112h5M450 113h5M448 114h5M446 115h5M444 116h5M442 117h5M440 118h5M438 119h5M436 120h5M433 121h6M431 122h6M427 123h7M422 124h10M418 125h10M414 126h9M411 127h8M408 128h7M404 129h8M401 130h8M398 131h7M394 132h8M391 133h8M388 134h7M384 135h8M381 136h8M378 137h7M374 138h8M371 139h8M367 140h8M362 141h10M354 142h14M347 143h16M342 144h13M337 145h11M333 146h10M328 147h10M322 148h12M317 149h12M311 150h12M306 151h12M302 152h10M300 153h7M297 154h6M295 155h6M293 156h5M290 157h6M287 158h7M284 159h7M281 160h7M277 161h8M273 162h9M269 163h9M265 164h9M261 165h9M257 166h9M252 167h10M247 168h11M242 169h11M237 170h11M232 171h11M227 172h11M222 173h11M217 174h11M213 175h10M209 176h9M205 177h9M201 178h9M198 179h8M196 180h6M193 181h6M191 182h6M188 183h6M184 184h8M181 185h8M178 186h7M176 187h6M173 188h6M171 189h6M168 190h6M164 191h8M161 192h8M158 193h7M154 194h8M151 195h8M149 196h6M149 197h3" stroke="#800080" fill="none" transform="translate(0,0.5)"/>
<path d="M489 71h1M488 72h1M487 73h1M486 74h1M484 75h2M483 76h1M482 77h1M481 78h1M480 79h1M478 80h2M476 81h2M475 82h1M473 83h2M471 84h2M470 85h1M468 86h2M466 87h2M465 88h1M463 89h2M461 90h2M459 91h2M455 92h4M452 93h3M449 94h3M445 95h4M442 96h3M439 97h3M435 98h4M432 99h3M429 100h3M427 101h2M425 102h2M423 103h2M421 104h2M420 105h1M418 106h2M417 107h1M415 108h2M414 109h1M413 110h1M411 111h2M410 112h1M408 113h2M407 114h1M405 115h2M404 116h1M403 117h1M401 118h2M400 119h1M398 120h2M396 121h2M395 122h1M393 123h2M391 124h2M390 125h1M388 126h2M387 127h1M385 128h2M384 129h1M383 130h1M381 131h2M380 132h1M378 133h2M376 134h2M375 135h1M323 136h12M373 136h2M320 137h3M335 137h2M371 137h2M318 138h2M337 138h2M369 138h2M316 139h2M339 139h4M365 139h4M315 140h1M343 140h5M362 140h3M313 141h2M348 141h14M311 142h2M309 143h2M307 144h2M305 145h2M303 146h2M301 147h2M299 148h2M266 149h6M296 149h3M261 150h5M272 150h8M294 150h2M258 151h3M280 151h14M256 152h2M254 153h2M253 154h1M251 155h2M249 156h2M247 157h2M244 158h3M242 159h2M239 160h3M237 161h2M234 162h3M232 163h2M229 164h3M227 165h2M224 166h3M222 167h2M219 168h3M217 169h2M215 170h2M213 171h2M211 172h2M209 173h2M138 174h10M207 174h2M136 175h2M148 175h4M204 175h3M134 176h2M152 176h6M202 176h2M133 177h1M158 177h6M199 177h3M132 178h1M164 178h2M197 178h2M130 179h2M166 179h3M194 179h3M129 180h1M169 180h3M192 180h2M128 181h1M172 181h2M190 181h2M127 182h1M174 182h3M188 182h2M126 183h1M177 183h2M187 183h1M125 184h1M179 184h2M184 184h3M124 185h1M181 185h3M123 186h1M122 187h1M121 188h1M120 189h1M119 190h1M118 191h1M117 192h1M116 193h1M115 194h1M114 195h1M113 196h1M112 197h1M111 198h1M110 199h1M109 200h1M107 201h2M106 202h1M105 203h1M104 204h1M102 205h2M101 206h1M99 207h2M97 208h2M95 209h2M93 210h2M90 211h3M87 212h3M84 213h3M81 214h3M78 215h3M75 216h3M72 217h3M70 218h2" stroke="#ff0000" fill="none" transform="translate(0,0.5)"/>
<path d="M488 199h1M484 200h1M486 200h1M482 201h1M478 202h1M480 202h1M476 203h1M474 204h1M472 205h1M470 206h1M468 207h1M466 209h1M464 210h1M462 212h1M460 213h1M458 214h1M454 215h1M456 215h1M450 216h1M452 216h1M444 217h1M446 217h1M448 217h1M438 218h1M440 218h1M442 218h1M428 219h1M430 219h1M432 219h1M434 219h1M436 219h1M420 220h1M422 220h1M424 220h1M426 220h1M418 221h1M416 222h1M414 223h1M412 224h1M266 225h1M268 225h1M270 225h1M410 225h1M260 226h1M262 226h1M264 226h1M272 226h1M406 226h1M408 226h1M258 227h1M274 227h1M276 227h1M404 227h1M254 228h1M256 228h1M278 228h1M402 228h1M252 229h1M280 229h1M400 229h1M250 230h1M282 230h1M398 230h1M246 231h1M248 231h1M284 231h1M396 231h1M242 232h1M244 232h1M286 232h1M328 232h1M330 232h1M394 232h1M142 233h1M144 233h1M240 233h1M288 233h1M320 233h1M322 233h1M324 233h1M326 233h1M332 233h1M392 233h1M138 234h1M140 234h1M146 234h1M148 234h1M238 234h1M290 234h1M292 234h1M308 234h1M310 234h1M312 234h1M314 234h1M316 234h1M318 234h1M334 234h1M390 234h1M136 235h1M150 235h1M152 235h1M234 235h1M236 235h1M294 235h1M296 235h1M298 235h1M300 235h1M302 235h1M304 235h1M306 235h1M336 235h1M386 235h1M388 235h1M154 236h1M156 236h1M232 236h1M338 236h1M384 236h1M134 237h1M158 237h1M160 237h1M162 237h1M164 237h1M166 237h1M168 237h1M170 237h1M172 237h1M174 237h1M176 237h1M178 237h1M180 237h1M182 237h1M184 237h1M186 237h1M188 237h1M190 237h1M192 237h1M194 237h1M196 237h1M198 237h1M220 237h1M222 237h1M224 237h1M226 237h1M228 237h1M230 237h1M340 237h1M382 237h1M132 238h1M200 238h1M202 238h1M204 238h1M206 238h1M208 238h1M210 238h1M212 238h1M214 238h1M216 238h1M218 238h1M342 238h1M380 238h1M344 239h1M378 239h1M130 240h1M346 240h1M376 240h1M348 241h1M374 241h1M128 242h1M350 242h1M372 242h1M126 243h1M352 243h1M354 243h1M368 243h1M370 243h1M356 244h1M358 244h1M364 244h1M366 244h1M124 245h1M360 245h1M362 245h1M122 246h1M120 248h1M118 250h1M116 252h1M114 254h1M112 256h1M110 258h1M108 260h1M106 261h1M104 263h1M102 264h1M100 266h1M96 267h1M98 267h1M92 268h1M94 268h1M90 269h1M86 270h1M88 270h1M82 271h1M84 271h1M76 272h1M78 272h1M80 272h1M70 273h1M72 273h1M74 273h1" stroke="#ff0000" fill="none" transform="translate(0,0.5)"/>
<path d="M462 252h1M464 252h1M466 252h1M468 252h1M452 253h1M454 253h1M456 253h1M458 253h1M460 253h1M470 253h1M472 253h1M474 253h1M476 253h1M486 253h1M488 253h1M446 254h1M448 254h1M450 254h1M478 254h1M480 254h1M482 254h1M484 254h1M442 255h1M444 255h1M440 256h1M436 257h1M438 257h1M432 258h1M434 258h1M430 259h1M428 260h1M424 261h1M426 261h1M422 262h1M420 263h1M418 264h1M416 265h1M142 266h1M144 266h1M146 266h1M148 266h1M414 266h1M136 267h1M138 267h1M140 267h1M150 267h1M152 267h1M154 267h1M412 267h1M132 268h1M134 268h1M156 268h1M158 268h1M410 268h1M130 269h1M160 269h1M406 269h1M408 269h1M126 270h1M128 270h1M162 270h1M164 270h1M404 270h1M124 271h1M166 271h1M168 271h1M402 271h1M122 272h1M170 272h1M400 272h1M120 273h1M172 273h1M396 273h1M398 273h1M118 274h1M174 274h1M392 274h1M394 274h1M116 275h1M176 275h1M390 275h1M114 276h1M178 276h1M386 276h1M388 276h1M112 277h1M180 277h1M182 277h1M382 277h1M384 277h1M110 278h1M184 278h1M186 278h1M246 278h1M248 278h1M250 278h1M252 278h1M254 278h1M256 278h1M258 278h1M378 278h1M380 278h1M106 279h1M108 279h1M188 279h1M190 279h1M192 279h1M194 279h1M236 279h1M238 279h1M240 279h1M242 279h1M244 279h1M260 279h1M262 279h1M314 279h1M316 279h1M318 279h1M320 279h1M322 279h1M374 279h1M376 279h1M102 280h1M104 280h1M196 280h1M198 280h1M200 280h1M202 280h1M204 280h1M226 280h1M228 280h1M230 280h1M232 280h1M234 280h1M264 280h1M266 280h1M308 280h1M310 280h1M312 280h1M324 280h1M326 280h1M328 280h1M330 280h1M332 280h1M370 280h1M372 280h1M100 281h1M206 281h1M208 281h1M210 281h1M212 281h1M214 281h1M216 281h1M218 281h1M220 281h1M222 281h1M224 281h1M268 281h1M270 281h1M304 281h1M306 281h1M334 281h1M336 281h1M338 281h1M362 281h1M364 281h1M366 281h1M368 281h1M96 282h1M98 282h1M272 282h1M274 282h1M276 282h1M298 282h1M300 282h1M302 282h1M340 282h1M342 282h1M344 282h1M346 282h1M348 282h1M350 282h1M352 282h1M354 282h1M356 282h1M358 282h1M360 282h1M92 283h1M94 283h1M278 283h1M280 283h1M282 283h1M284 283h1M294 283h1M296 283h1M88 284h1M90 284h1M286 284h1M288 284h1M290 284h1M292 284h1M84 285h1M86 285h1M78 286h1M80 286h1M82 286h1M74 287h1M76 287h1M70 288h1M72 288h1" stroke="#000" fill="none" transform="translate(0,0.5)"/>
<path d="M466 190h2M466 191h3M466 192h4M465 193h5M463 194h4M468 194h3M479 194h5M463 195h4M469 195h2M478 195h6M463 196h2M469 196h2M478 196h2M482 196h3M486 196h4M463 197h2M469 197h2M477 197h3M483 197h7M462 198h3M469 198h3M476 198h3M483 198h4M462 199h2M470 199h2M476 199h2M484 199h3M458 200h6M470 200h2M475 200h3M484 200h2M455 201h9M470 201h3M475 201h2M455 202h4M471 202h2M475 202h2M454 203h3M471 203h6M450 204h6M472 204h4M449 205h7M472 205h4M449 206h2M446 207h5M444 208h6M444 209h3M443 210h3M443 211h2M442 212h3M414 213h3M441 213h3M413 214h5M441 214h2M412 215h3M416 215h3M440 215h3M397 216h5M404 216h5M410 216h4M417 216h3M439 216h3M256 217h2M395 217h18M418 217h3M435 217h6M255 218h4M394 218h4M401 218h4M408 218h3M419 218h3M424 218h2M435 218h5M255 219h4M393 219h3M420 219h2M424 219h6M434 219h3M254 220h6M393 220h2M420 220h11M434 220h2M253 221h3M258 221h2M392 221h3M421 221h4M429 221h7M239 222h3M252 222h3M258 222h3M392 222h2M421 222h4M430 222h5M237 223h7M251 223h3M259 223h3M391 223h3M422 223h2M431 223h2M236 224h4M241 224h5M247 224h6M260 224h4M298 224h4M391 224h2M236 225h2M243 225h9M261 225h5M296 225h7M390 225h3M235 226h3M245 226h3M263 226h4M295 226h4M301 226h2M389 226h3M117 227h2M234 227h3M265 227h3M294 227h3M301 227h3M389 227h2M116 228h5M234 228h2M266 228h2M294 228h2M302 228h4M388 228h3M115 229h8M136 229h2M233 229h3M266 229h3M293 229h3M303 229h5M387 229h3M114 230h3M120 230h4M135 230h4M156 230h5M231 230h4M267 230h3M292 230h3M305 230h5M387 230h2M114 231h2M122 231h3M135 231h5M155 231h7M227 231h7M268 231h3M291 231h3M307 231h5M386 231h3M113 232h3M123 232h4M133 232h4M138 232h3M155 232h2M160 232h3M226 232h6M269 232h2M290 232h3M309 232h4M319 232h6M372 232h2M386 232h2M112 233h3M124 233h6M131 233h5M139 233h2M154 233h3M161 233h3M225 233h3M269 233h3M290 233h2M311 233h5M317 233h8M371 233h6M385 233h3M111 234h3M126 234h8M139 234h3M153 234h3M162 234h3M166 234h5M225 234h2M270 234h2M289 234h3M312 234h8M323 234h3M368 234h16M385 234h2M110 235h3M129 235h3M140 235h2M153 235h2M163 235h9M185 235h2M188 235h3M213 235h2M224 235h3M270 235h3M288 235h3M315 235h3M324 235h2M367 235h5M376 235h11M108 236h4M140 236h2M152 236h3M164 236h3M170 236h3M179 236h4M184 236h8M212 236h3M222 236h4M271 236h2M288 236h2M324 236h2M367 236h2M383 236h3M107 237h4M140 237h3M152 237h2M171 237h2M178 237h11M190 237h3M199 237h2M208 237h8M221 237h4M271 237h2M287 237h3M324 237h2M365 237h4M106 238h3M141 238h2M151 238h3M171 238h3M178 238h2M182 238h3M191 238h3M198 238h8M207 238h6M214 238h2M220 238h3M271 238h3M286 238h3M324 238h3M329 238h3M353 238h2M363 238h5M106 239h2M141 239h2M151 239h2M172 239h3M177 239h3M192 239h17M214 239h2M220 239h2M272 239h2M286 239h2M325 239h7M352 239h5M362 239h4M105 240h3M141 240h2M151 240h2M173 240h6M193 240h6M205 240h3M214 240h3M219 240h3M272 240h3M285 240h3M325 240h8M348 240h10M361 240h3M104 241h3M141 241h2M151 241h2M173 241h5M215 241h2M218 241h3M273 241h2M284 241h3M325 241h3M331 241h2M348 241h5M356 241h3M361 241h2M104 242h2M141 242h3M150 242h3M174 242h2M215 242h2M218 242h2M273 242h4M283 242h3M331 242h2M347 242h3M357 242h2M360 242h3M103 243h3M142 243h2M150 243h2M215 243h5M274 243h4M282 243h3M331 243h3M347 243h2M357 243h5M102 244h3M142 244h2M150 244h2M216 244h3M276 244h3M282 244h2M332 244h2M339 244h2M347 244h2M358 244h3M102 245h2M142 245h2M149 245h3M216 245h2M277 245h2M281 245h3M332 245h2M339 245h3M347 245h2M358 245h2M101 246h3M142 246h2M149 246h2M277 246h6M332 246h3M339 246h4M346 246h3M101 247h2M142 247h2M149 247h2M278 247h4M333 247h2M338 247h6M346 247h2M101 248h2M142 248h3M148 248h3M278 248h2M333 248h2M338 248h2M342 248h3M346 248h2M100 249h3M143 249h2M147 249h3M333 249h2M338 249h2M343 249h5M100 250h2M143 250h7M333 250h3M338 250h2M344 250h3M99 251h3M143 251h5M334 251h2M337 251h3M345 251h2M99 252h2M334 252h5M99 253h2M334 253h5M98 254h3M98 255h2M97 256h3M97 257h2M96 258h3M95 259h3M94 260h3M94 261h2M93 262h3M93 263h2M93 264h2M72 265h3M92 265h3M33 266h4M72 266h7M90 266h4M32 267h9M71 267h9M87 267h7M32 268h2M36 268h6M71 268h2M78 268h3M86 268h5M40 269h2M60 269h3M64 269h3M71 269h2M79 269h4M85 269h3M40 270h3M58 270h11M70 270h3M80 270h7M41 271h2M56 271h5M62 271h3M66 271h6M82 271h4M41 272h3M52 272h7M68 272h4M42 273h2M49 273h8M68 273h3M42 274h3M48 274h5M69 274h2M43 275h2M48 275h2M43 276h2M47 276h3M43 277h3M47 277h2M44 278h5M44 279h4" stroke="#0000ff" fill="none" transform="translate(0,0.5)"/>
<path d="M435 248h6M481 248h2M488 248h2M434 249h8M480 249h4M487 249h3M434 250h2M440 250h3M465 250h3M479 250h6M486 250h3M433 251h3M441 251h2M456 251h3M463 251h6M478 251h3M483 251h5M432 252h3M441 252h7M455 252h11M467 252h2M478 252h2M483 252h4M431 253h3M442 253h7M454 253h3M458 253h6M467 253h3M477 253h3M484 253h2M425 254h3M429 254h4M447 254h3M453 254h3M468 254h2M476 254h3M423 255h9M448 255h7M468 255h3M475 255h3M414 256h3M422 256h4M427 256h3M449 256h5M469 256h2M475 256h2M413 257h6M420 257h4M469 257h8M412 258h3M416 258h7M470 258h6M412 259h2M418 259h3M472 259h2M409 260h5M133 261h5M408 261h5M130 262h10M408 262h2M117 263h2M120 263h3M126 263h8M137 263h4M404 263h6M115 264h16M139 264h3M394 264h5M402 264h7M114 265h7M122 265h5M140 265h2M393 265h12M113 266h3M124 266h2M140 266h3M392 266h3M398 266h5M111 267h4M141 267h2M391 267h3M108 268h6M141 268h3M390 268h3M106 269h6M142 269h2M390 269h2M105 270h4M142 270h5M389 270h3M104 271h3M143 271h5M156 271h2M388 271h3M102 272h4M146 272h2M155 272h4M387 272h3M100 273h5M146 273h3M155 273h5M383 273h2M386 273h3M99 274h4M147 274h4M153 274h4M158 274h3M226 274h3M382 274h6M97 275h4M148 275h8M159 275h6M225 275h5M236 275h9M364 275h4M381 275h6M96 276h4M150 276h4M160 276h11M224 276h3M228 276h3M235 276h12M295 276h3M362 276h8M380 276h3M95 277h3M164 277h8M223 277h3M229 277h3M233 277h4M244 277h5M293 277h7M304 277h3M351 277h3M361 277h4M367 277h4M378 277h4M93 278h4M170 278h3M198 278h7M222 278h3M230 278h6M246 278h4M289 278h7M297 278h12M316 278h5M349 278h10M360 278h3M369 278h12M92 279h4M171 279h4M196 279h11M221 279h3M231 279h3M248 279h3M288 279h6M299 279h6M306 279h16M349 279h3M353 279h9M369 279h10M91 280h3M172 280h4M187 280h2M190 280h3M194 280h5M204 280h5M210 280h3M221 280h2M249 280h3M288 280h2M308 280h9M320 280h3M348 280h3M358 280h3M370 280h2M90 281h3M174 281h3M186 281h11M206 281h9M220 281h3M250 281h5M280 281h10M309 281h2M321 281h3M348 281h2M71 282h6M89 282h3M175 282h3M186 282h5M192 282h3M208 282h3M212 282h4M220 282h2M251 282h5M278 282h11M322 282h2M329 282h4M346 282h4M70 283h8M85 283h3M89 283h2M176 283h6M184 283h4M214 283h2M219 283h3M254 283h3M276 283h5M322 283h3M327 283h8M345 283h4M69 284h3M76 284h3M84 284h7M177 284h10M214 284h3M218 284h3M255 284h3M265 284h4M274 284h5M323 284h7M332 284h4M344 284h3M38 285h3M68 285h3M77 285h3M84 285h2M87 285h3M181 285h4M215 285h5M256 285h4M264 285h6M272 285h5M324 285h4M334 285h2M339 285h7M32 286h10M53 286h2M64 286h3M68 286h2M78 286h3M83 286h3M215 286h4M257 286h5M263 286h3M268 286h7M334 286h3M338 286h7M32 287h7M40 287h2M47 287h4M52 287h18M79 287h2M82 287h3M216 287h2M259 287h6M269 287h4M335 287h5M40 288h3M47 288h18M66 288h3M79 288h5M261 288h3M335 288h4M41 289h3M46 289h3M50 289h3M80 289h3M42 290h3M46 290h2M80 290h2M43 291h5M44 292h3" stroke="#ff00ff" fill="none" transform="translate(0,0.5)"/>
<path d="M34.5 216V219M33 216.5h1M35 218.5h1M36.5 219V222M35 219.5h1M37 219.5h1M38.5 218V221M37 218.5h1M39 218.5h1M40.5 215V220M39 218.5h1M41.5 216V224M42 222.5h1M43.5 222V226M42 222.5h1M44 223.5h1M45.5 224V229M44 226.5h1M46 226.5h1M47.5 218V226M46 219.5h1M48 222.5h1M49.5 215V219M48 217.5h1M50 215.5h1M51.5 213V218M50 216.5h1M52.5 211V218M53 212.5h1M55.5 212V218M54 217.5h1M56 212.5h1M57.5 212V218M56 212.5h1M58 212.5h1M59.5 214V222M58 221.5h1M60 221.5h1M61.5 212V216M60 213.5h1M62 213.5h1M64.5 215V218M63 216.5h1M65 217.5h1M66.5 214V219M65 215.5h1M67 215.5h1M68.5 214V219M67 217.5h1M69 217.5h1M70.5 212V219M69 212.5h1M71 215.5h1M72.5 209V216M71 212.5h1M73 210.5h1M74.5 204V208M73 204.5h1M75 206.5h1M76.5 203V207M75 205.5h1M77 203.5h1M78.5 203V207M77 204.5h1M79 204.5h1M80.5 209V215M79 212.5h1M81 213.5h1M82.5 208V214M81 213.5h1M83.5 208V214M84 208.5h1M85.5 209V213M84 210.5h1M86 210.5h1M87.5 204V208M86 207.5h1M88 206.5h1M90.5 204V208M89 204.5h1M91 206.5h1M92.5 203V208M91 205.5h1M93 206.5h1M94.5 199V203M93 199.5h1M95 199.5h1M96.5 196V199M95 196.5h1M97 196.5h1M99.5 188V193M98 192.5h1M100 189.5h1M101.5 184V190M100 184.5h1M102 188.5h1M103.5 183V188M102 185.5h1M104 185.5h1M105.5 182V185M104 184.5h1M106.5 176V180M107.5 175V180M108 176.5h1M109.5 176V179M108 177.5h1M110 176.5h1M111.5 175V181M110 180.5h1M112 176.5h1M113.5 173V178M112 175.5h1M114 174.5h1M115.5 174V178M114 175.5h1M116 175.5h1M117.5 176V178M116 176.5h1M120.5 164V170M119 168.5h1M121 164.5h1M122.5 168V172M121 171.5h1M123 168.5h1M124.5 170V174M123 170.5h1M125 170.5h1M126.5 171V175M125 171.5h1M127 173.5h1M128.5 172V178M127 173.5h1M129 177.5h1M130.5 172V177M129 175.5h1M131 174.5h1M132.5 169V175M131 172.5h1M133 173.5h1M134.5 171V174M133 172.5h1M135 172.5h1M136.5 165V170M135 169.5h1M137 166.5h1M138.5 166V171M137 166.5h1M139 167.5h1M140.5 170V174M139 171.5h1M141 173.5h1M142.5 172V176M141 172.5h1M143 174.5h1M144.5 172V188M143 178.5h1M145 178.5h1M146.5 184V189M145 184.5h1M147 184.5h1M148.5 183V189M147 185.5h1M149 186.5h1M150.5 184V190M149 187.5h1M151.5 183V194M152 183.5h1M153.5 180V187M152 181.5h1M154 182.5h1M155.5 178V183M154 180.5h1M156 182.5h1M157.5 177V181M156 178.5h1M158 177.5h1M159.5 178V181M158 179.5h1M160 178.5h1M161.5 179V185M160 182.5h1M162 181.5h1M163.5 180V183M162 182.5h1M164.5 173V184M165 182.5h1M166.5 180V183M165 180.5h1M167 182.5h1M168.5 179V183M167 179.5h1M169 179.5h1M170.5 179V183M169 182.5h1M171 181.5h1M172.5 181V188M171 186.5h1M173 183.5h1M174.5 184V190M173 184.5h1M175 184.5h1M176.5 183V192M175 184.5h1M177 190.5h1M178.5 184V189M177 184.5h1M179 186.5h1M180.5 183V187M179 185.5h1M181 184.5h1M182.5 178V186M181 179.5h1M183 179.5h1M184.5 182V185M183 183.5h1M185 184.5h1M186.5 174V175M185 174.5h1M187.5 167V172M188 169.5h1M190.5 167V171M189 169.5h1M191 167.5h1M192.5 168V171M191 170.5h1M193 169.5h1M195.5 168V171M194 168.5h1M196 169.5h1M197.5 168V170M196 168.5h1M198 169.5h1M200.5 167V170M199 169.5h1M201 167.5h1M202.5 164V169M201 168.5h1M203.5 164V167M204 166.5h1M205.5 163V166M204 163.5h1M206 165.5h1M207.5 162V166M206 162.5h1M208 162.5h1M209.5 164V169M208 164.5h1M210 164.5h1M212.5 161V164M211 162.5h1M213.5 161V163M214 162.5h1M215.5 161V163M214 162.5h1M216 162.5h1M219.5 169V179M218 170.5h1M220 177.5h1M221.5 164V168M220 164.5h1M222 166.5h1M224.5 161V163M223 161.5h1M225 162.5h1M226.5 160V162M225 160.5h1M227 160.5h1M228.5 154V158M227 154.5h1M229 157.5h1M231.5 155V158M230 157.5h1M232 157.5h1M233.5 156V159M232 157.5h1M234 157.5h1M235.5 149V156M234 149.5h1M236 151.5h1M238.5 146V149M237 147.5h1M239 146.5h1M240.5 147V150M239 149.5h1M241 149.5h1M243.5 148V151M242 148.5h1M244 150.5h1M245.5 145V150M244 146.5h1M246.5 143V154M247 150.5h1M248.5 149V153M247 152.5h1M249 150.5h1M251.5 144V148M250 146.5h1M252 147.5h1M253.5 144V152M252 148.5h1M254 147.5h1M255.5 152V156M254 155.5h1M256 153.5h1M257.5 144V149M256 145.5h1M258 147.5h1M259.5 146V151M258 147.5h1M260 150.5h1M261.5 148V152M260 150.5h1M262 149.5h1M264.5 149V152M263 149.5h1M265 149.5h1M266.5 145V151M265 148.5h1M267 147.5h1M268.5 149V158M267 149.5h1M269 150.5h1M271.5 148V156M270 152.5h1M272.5 148V162M273 155.5h1M274.5 153V156M273 154.5h1M275 154.5h1M276.5 152V156M275 153.5h1M277 155.5h1M278.5 151V155M277 154.5h1M279 154.5h1M280.5 154V161M279 159.5h1M281 156.5h1M282.5 154V160M281 159.5h1M283 158.5h1M284.5 153V156M283 154.5h1M285.5 152V159M286 158.5h1M287.5 146V149M286 146.5h1M288 147.5h1M289.5 144V147M288 146.5h1M290 144.5h1M291.5 140V143M290 142.5h1M292 142.5h1M293.5 139V143M292 141.5h1M294 141.5h1M296.5 134V138M295 136.5h1M297 134.5h1M298.5 134V137M297 136.5h1M299 134.5h1M300.5 135V138M299 136.5h1M301.5 133V136M302 133.5h1M303.5 132V134M302 133.5h1M304 132.5h1M305.5 132V135M304 132.5h1M306.5 132V139M307 132.5h1M309.5 135V138M308 136.5h1M310 135.5h1M311.5 134V137M310 136.5h1M312.5 133V137M313 133.5h1M314.5 132V136M313 133.5h1M315 133.5h1M316.5 133V136M315 134.5h1M317 134.5h1M319.5 131V134M318 131.5h1M320 133.5h1M321.5 127V135M320 127.5h1M322 134.5h1M323.5 135V138M322 137.5h1M324 137.5h1M326.5 136V148M325 136.5h1M327 138.5h1M328.5 138V148M327 141.5h1M329.5 137V140M330 139.5h1M331.5 135V138M330 137.5h1M332.5 133V137M333 136.5h1M334.5 136V150M333 149.5h1M335 148.5h1M337.5 149V154M336 150.5h1M338 149.5h1M339.5 141V145M338 144.5h1M340 144.5h1M342.5 142V146M341 143.5h1M343 145.5h1M344.5 144V147M343 145.5h1M345 144.5h1M347.5 141V144M346 143.5h1M348.5 142V151M349 150.5h1M350.5 138V142M349 140.5h1M351 141.5h1M352.5 132V139M351 134.5h1M353 137.5h1M354.5 130V133M353 130.5h1M355 130.5h1M356.5 132V142M355 133.5h1M357 135.5h1M359.5 134V137M358 134.5h1M360 135.5h1M361.5 134V137M360 134.5h1M362 135.5h1M363.5 126V131M362 130.5h1M364 128.5h1M366.5 122V125M365 123.5h1M367 124.5h1M368.5 122V124M367 122.5h1M369 123.5h1M370.5 126V129M369 128.5h1M371 126.5h1M373.5 123V126M372 123.5h1M374.5 122V126M375 125.5h1M376.5 122V126M375 124.5h1M377 125.5h1M378.5 123V126M377 123.5h1M379.5 124V126M380 125.5h1M381.5 124V131M380 130.5h1M382 124.5h1M383.5 124V128M382 125.5h1M384 126.5h1M386.5 121V124M385 123.5h1M387 121.5h1M388.5 118V123M387 121.5h1M389 119.5h1M391.5 114V118M390 117.5h1M392.5 112V116M393 113.5h1M394.5 110V112M393 111.5h1M395.5 108V111M396 110.5h1M397.5 105V109M396 106.5h1M398.5 104V108M399 107.5h1M400.5 104V108M399 105.5h1M401.5 104V106M402 105.5h1M403.5 103V106M402 105.5h1M404.5 102V105M405 103.5h1M406.5 103V105M405 103.5h1M407 103.5h1M408.5 101V104M407 103.5h1M409 102.5h1M410.5 101V104M409 101.5h1M411 103.5h1M412.5 100V104M411 100.5h1M413 103.5h1M414.5 100V106M413 104.5h1M415 104.5h1M416.5 97V103M415 97.5h1M417 100.5h1M418.5 94V100M417 94.5h1M419 99.5h1M420.5 96V99M419 96.5h1M421 96.5h1M422.5 98V105M421 102.5h1M423 101.5h1M424.5 95V103M423 101.5h1M425.5 92V100M426 95.5h1M428.5 94V96M427 95.5h1M429.5 93V96M430 94.5h1M431.5 93V96M430 94.5h1M432 94.5h1M433.5 90V98M432 95.5h1M434.5 89V94M435 92.5h1M436.5 88V91M435 90.5h1M437.5 88V91M438 88.5h1M439.5 86V90M438 86.5h1M440 86.5h1M441.5 88V94M440 89.5h1M442 89.5h1M443.5 90V96M442 91.5h1M444.5 89V95M445 91.5h1M446.5 90V94M445 92.5h1M447.5 91V96M448 95.5h1M449.5 94V100M448 97.5h1M450 94.5h1M452.5 88V94M451 91.5h1M453.5 88V93M454 88.5h1M455.5 88V92M454 90.5h1M456 89.5h1M457.5 84V90M456 89.5h1M458 88.5h1M459.5 84V86M458 85.5h1M460.5 83V85M461 84.5h1M462.5 82V84M461 82.5h1M463 82.5h1M464.5 72V81M463 80.5h1M465 75.5h1M466.5 69V76M465 73.5h1M467.5 60V68M468 63.5h1M471.5 57V67M470 62.5h1M472 66.5h1M473.5 64V71M472 66.5h1M474 65.5h1M475.5 69V72M474 69.5h1M476 69.5h1M477.5 66V71M476 66.5h1M478 67.5h1M479.5 62V67M478 63.5h1M480 63.5h1M481.5 58V62M480 58.5h1M482 60.5h1M483.5 56V59M482 57.5h1M484 56.5h1M485.5 54V58M484 57.5h1M486 57.5h1M487.5 56V62M486 60.5h1M488 61.5h1M489.5 50V51M488 50.5h1M490 50.5h1" stroke="#000" fill="none"/>
<path d="M118.5 161V169M217.5 168V179M469.5 63V81" stroke="#ff0000" fill="none"/>
<path d="M487.5 56V61" stroke="#ff0000" fill="none"/>
<text x="267.5" y="116.8" font-family="'Liberation Sans', sans-serif" font-size="13.5" textLength="16.5" lengthAdjust="spacingAndGlyphs" fill="#000" stroke="#000" stroke-width="0.6" style="filter:grayscale(1)">S7</text>
<path d="M376 86h1M376 87h1M374 88h1M376 88h1M374 89h1M376 89h1M372 90h1M374 90h1M376 90h1M372 91h3M376 91h1M379 91h1M372 92h1M374 92h1M376 92h1M378 92h1M371 93h2M374 93h4M372 94h1M374 94h1M376 94h1M369 95h1M372 95h4M370 96h1M372 96h1M374 96h1M371 97h3M348 98h1M350 98h2M353 98h1M355 98h1M357 98h1M359 98h1M361 98h2M364 98h1M366 98h1M368 98h1M370 98h1M372 98h1M348 99h1M350 99h2M353 99h1M355 99h1M357 99h1M359 99h1M361 99h2M364 99h1M366 99h1M368 99h1M370 99h1M345 100h1M348 100h1M350 100h2M353 100h1M355 100h1M357 100h1M359 100h1M361 100h2M364 100h1M366 100h1M368 100h1M370 100h1M345 101h1M348 101h1M350 101h2M353 101h1M355 101h1M357 101h1M359 101h1M361 101h2M364 101h1M366 101h1M368 101h1M370 101h1M343 102h1M345 102h1M348 102h1M350 102h2M353 102h1M355 102h1M357 102h1M359 102h1M361 102h2M364 102h1M366 102h1M368 102h1M370 102h1M341 103h1M343 103h1M345 103h1M347 103h2M350 103h22M373 103h1M305 104h1M307 104h2M310 104h1M312 104h1M314 104h1M316 104h1M318 104h2M321 104h1M323 104h1M325 104h1M327 104h2M330 104h1M332 104h1M334 104h1M336 104h1M338 104h2M341 104h1M343 104h1M345 104h2M348 104h6M355 104h1M357 104h1M359 104h6M366 104h1M368 104h1M370 104h1M372 104h1M305 105h1M307 105h2M310 105h1M312 105h1M314 105h1M316 105h1M318 105h2M321 105h1M323 105h1M325 105h1M327 105h2M330 105h1M332 105h1M334 105h1M336 105h1M338 105h2M341 105h3M345 105h1M347 105h25M305 106h1M307 106h2M310 106h1M312 106h1M314 106h1M316 106h1M318 106h2M321 106h1M323 106h1M325 106h1M327 106h2M330 106h1M332 106h1M334 106h1M336 106h1M338 106h2M341 106h1M343 106h1M345 106h1M347 106h2M350 106h2M353 106h1M355 106h1M357 106h1M359 106h1M361 106h2M364 106h1M366 106h1M368 106h1M370 106h1M305 107h1M307 107h2M310 107h1M312 107h1M314 107h1M316 107h1M318 107h2M321 107h1M323 107h1M325 107h1M327 107h2M330 107h1M332 107h1M334 107h1M336 107h1M338 107h4M343 107h4M282 108h1M284 108h2M287 108h1M289 108h1M291 108h1M293 108h2M305 108h1M307 108h2M310 108h1M312 108h1M314 108h1M316 108h1M318 108h2M321 108h1M323 108h1M325 108h1M327 108h2M330 108h1M332 108h1M334 108h1M336 108h1M338 108h2M341 108h1M343 108h3M282 109h1M284 109h2M287 109h1M289 109h1M291 109h1M293 109h2M302 109h1M304 109h2M307 109h33M341 109h4M282 110h1M284 110h2M287 110h1M289 110h1M291 110h1M293 110h2M303 110h1M305 110h6M312 110h1M314 110h1M316 110h6M323 110h1M325 110h6M332 110h1M334 110h1M336 110h8M282 111h1M284 111h2M287 111h1M289 111h1M291 111h1M293 111h2M304 111h38M276 112h1M278 112h1M280 112h1M282 112h1M284 112h2M287 112h1M289 112h1M291 112h1M293 112h2M305 112h1M307 112h2M310 112h1M312 112h1M314 112h1M316 112h1M318 112h2M321 112h1M323 112h1M325 112h1M327 112h2M330 112h1M332 112h1M334 112h1M336 112h1M338 112h2M276 113h1M278 113h5M284 113h11M296 113h2M276 114h1M278 114h1M280 114h1M282 114h6M289 114h1M291 114h6M276 115h1M278 115h1M280 115h16M271 116h1M273 116h2M276 116h1M278 116h1M280 116h1M282 116h1M284 116h2M287 116h1M289 116h1M291 116h1M293 116h2M271 117h1M273 117h9M283 117h1M271 118h1M273 118h2M276 118h1M278 118h1M280 118h1M282 118h1M271 119h1M273 119h9M271 120h1M273 120h2M276 120h1M278 120h1M280 120h1M268 121h1M270 121h2M273 121h2M276 121h2M269 122h1M271 122h6M270 123h6M271 124h1M273 124h2" stroke="#ff00ff" fill="none" transform="translate(0,0.5)"/>
<path d="M124.5 151.5h3v5h2.5L126 161.0L122 156.5h2.5z" fill="#ff0000"/>
<path d="M126.0 195.0h3v-5h2.5L127.5 185.0L123.5 190.0h2.5z" fill="#ff0000"/>
<path d="M346.0 113.5h3v5h2.5L347.5 123.0L343.5 118.5h2.5z" fill="#ff0000"/>
<path d="M349.5 166.5h3v-5h2.5L351 156.5L347 161.5h2.5z" fill="#ff0000"/>
</svg></body></html>
